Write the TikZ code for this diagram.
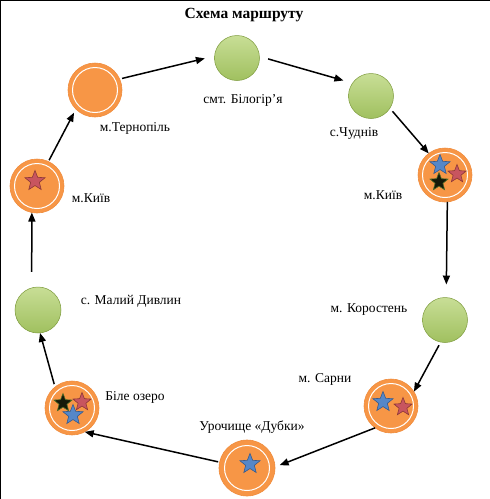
\documentclass[tikz,border=0pt]{standalone}
\usepackage{fontspec}
\setmainfont{Liberation Serif}
\usetikzlibrary{shapes.geometric,arrows.meta}
\definecolor{orng}{RGB}{247,150,70}
\definecolor{orngedge}{RGB}{240,140,60}
\definecolor{gtop}{RGB}{200,222,150}
\definecolor{gbot}{RGB}{160,192,95}
\definecolor{gedge}{RGB}{125,155,60}
\definecolor{sblue}{RGB}{85,135,200}
\definecolor{sblueedge}{RGB}{55,90,140}
\definecolor{sred}{RGB}{200,85,95}
\definecolor{srededge}{RGB}{140,55,55}
\definecolor{sblack}{RGB}{20,25,10}
\definecolor{sblackedge}{RGB}{80,110,40}
\tikzset{
  stop/.style={circle, inner sep=0pt, outer sep=0pt, minimum size=54pt,
    fill=orng, draw=orngedge, line width=0.6pt,
    path picture={\draw[white, line width=1pt] (path picture bounding box.center) circle (22.5pt);}},
  village/.style={circle, inner sep=0pt, outer sep=0pt, minimum size=45pt,
    top color=gtop, bottom color=gbot, draw=gedge, line width=0.5pt},
  lbl/.style={font=\fontsize{13.5}{15}\selectfont, inner sep=0pt},
  starbase/.style={star, star points=5, star point ratio=2.3, minimum size=21pt, inner sep=0pt, line width=0.6pt},
  bluestar/.style={starbase, fill=sblue, draw=sblueedge},
  redstar/.style={starbase, fill=sred, draw=srededge},
  blackstar/.style={starbase, fill=sblack, draw=sblackedge},
  conn/.style={draw=black, line width=1.5pt, -{Triangle[length=9pt,width=7pt]}},
}
\begin{document}
\begin{tikzpicture}[x=1pt,y=-1pt]
\useasboundingbox (0,0) rectangle (490,499);
\fill[white] (0,0) rectangle (490,499);
\draw[black, line width=2.4pt] (0,499) -- (0,0) -- (490,0);

\node[font=\fontsize{15.5}{17}\selectfont\bfseries] (title) at (244,15) {Схема маршруту};

% stops
\node[stop] (tern) at (95,90) {};
\node[stop] (kyl) at (37,186) {};
\node[village] (bil) at (237,58) {};
\node[village] (chud) at (371,96) {};
\node[stop] (kyr) at (445,175) {};
\node[village] (kor) at (445,320) {};
\node[stop] (sar) at (391,406) {};
\node[stop, minimum size=56pt] (dub) at (247,468) {};
\node[stop] (bile) at (72,408) {};
\node[village, minimum size=46pt] (mdyv) at (38,310) {};

% stars
\node[redstar] (st1) at (35,181) {};
\node[bluestar] (st2) at (440,165) {};
\node[redstar, minimum size=19pt] (st3) at (457,174) {};
\node[blackstar, minimum size=19pt] (st4) at (439,182) {};
\node[bluestar] (st5) at (383,402) {};
\node[redstar, minimum size=19pt] (st6) at (403,407) {};
\node[bluestar] (st7) at (250,464) {};
\node[blackstar, minimum size=19pt] (st8) at (63,403) {};
\node[redstar, minimum size=19pt] (st9) at (82,402) {};
\node[bluestar] (st10) at (73,415) {};

% labels
\node[lbl] (ltern) at (135,128) {м.Тернопіль};
\node[lbl] (lkyl) at (91,198) {м.Київ};
\node[lbl] (lbil) at (243,100) {смт. Білогір’я};
\node[lbl] (lchud) at (354,133) {с.Чуднів};
\node[lbl] (lkyr) at (383,195) {м.Київ};
\node[lbl] (lkor) at (369,310) {м. Коростень};
\node[lbl] (lsar) at (325,379) {м. Сарни};
\node[lbl] (ldub) at (252,427) {Урочище «Дубки»};
\node[lbl] (lbile) at (135,397) {Біле озеро};
\node[lbl] (lmdyv) at (131,301) {с. Малий Дивлин};

% connectors
\draw[conn, shorten <=1.5pt, shorten >=4pt] (kyl.65) -- (tern.225);
\draw[conn, shorten <=2.5pt, shorten >=10pt] (tern.24) -- (bil.175);
\draw[conn, shorten <=9pt, shorten >=9.5pt] (bil.4) -- (chud.145);
\draw[conn, shorten <=4pt, shorten >=0pt] (chud.327) -- (kyr.127);
\draw[conn, shorten >=13pt] (kyr.275) -- (kor.87);
\draw[conn, shorten <=3.5pt] (kor.259) -- (sar.32);
\draw[conn, shorten >=5pt] (sar.234) -- (dub.2);
\draw[conn, shorten <=1.5pt] (dub.168) -- (bile.298);
\draw[conn, shorten <=3pt] (bile.129) -- (mdyv.275);
\draw[conn, shorten <=16pt] (mdyv.106) -- (kyl.259);
\end{tikzpicture}
\end{document}
